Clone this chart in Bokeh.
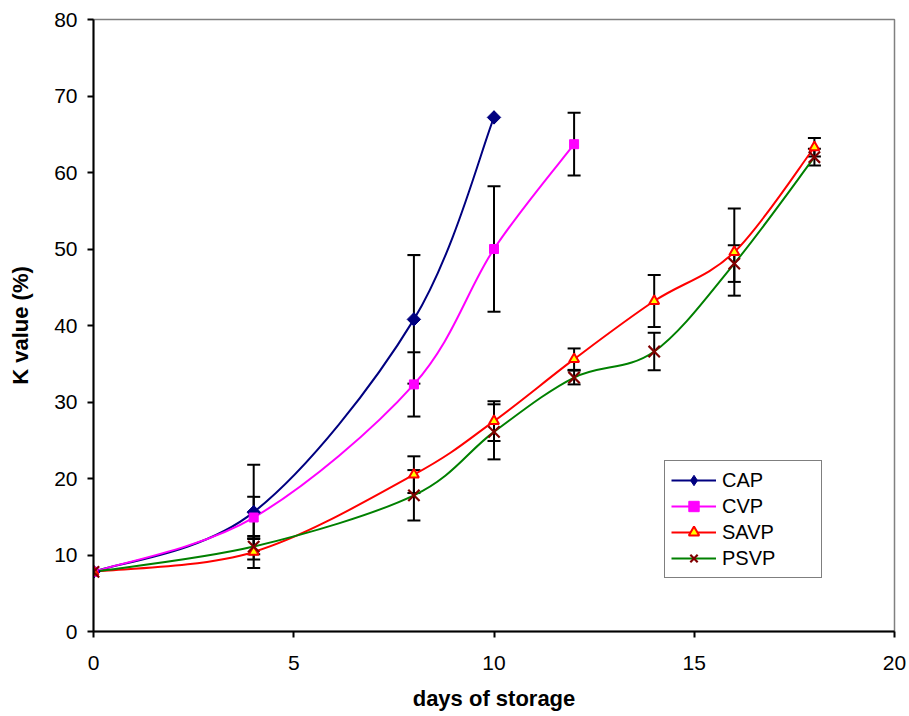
import math
from bokeh.plotting import figure
from bokeh.models import (ColumnDataSource, Whisker, TeeHead, Legend, LegendItem,
                          FixedTicker, Range1d)
from bokeh.embed import file_html
from bokeh.resources import INLINE

# ---- data ----
days_cap = [0, 4, 8, 10]
cap = [7.8, 15.6, 40.8, 67.2]
cap_err = [0, 6.2, 8.4, 0]

days_cvp = [0, 4, 8, 10, 12]
cvp = [7.8, 14.9, 32.3, 50.0, 63.7]
cvp_err = [0, 2.7, 4.2, 8.2, 4.1]

days_sv = [0, 4, 8, 10, 12, 14, 16, 18]
savp = [7.8, 10.4, 20.5, 27.5, 35.6, 43.2, 49.6, 63.3]
savp_err = [0, 2.1, 2.4, 2.6, 1.4, 3.4, 5.7, 1.2]

psvp = [7.8, 11.1, 17.8, 26.1, 33.2, 36.6, 48.1, 62.0]
psvp_err = [0, 1.0, 3.3, 3.6, 0.9, 2.45, 2.4, 1.1]

x_ticks = [0, 5, 10, 15, 20]
y_ticks = [0, 10, 20, 30, 40, 50, 60, 70, 80]

FONT = "Liberation Sans"

p = figure(width=909, height=716, output_backend="svg", toolbar_location=None,
           x_range=Range1d(0, 20), y_range=Range1d(0, 80),
           min_border_left=93, min_border_right=15, min_border_top=19, min_border_bottom=85)
p.xgrid.visible = False
p.ygrid.visible = False
p.outline_line_color = "#808080"
p.outline_line_width = 1.5
p.background_fill_color = "white"
p.border_fill_color = "white"

for ax, ticks in ((p.xaxis[0], x_ticks), (p.yaxis[0], y_ticks)):
    ax.ticker = FixedTicker(ticks=ticks)
    ax.minor_tick_line_color = None
    ax.axis_line_color = "black"
    ax.axis_line_width = 2
    ax.major_tick_line_color = "black"
    ax.major_tick_line_width = 2
    ax.major_tick_in = 0
    ax.major_tick_out = 6
    ax.major_label_text_font = FONT
    ax.major_label_text_font_size = "21px"
    ax.major_label_text_color = "black"
    ax.axis_label_text_font = FONT
    ax.axis_label_text_font_style = "bold"
    ax.axis_label_text_color = "black"
    ax.axis_label_text_font_size = "22px"

p.xaxis.axis_label = "days of storage"
p.xaxis.major_label_standoff = 18
p.xaxis.axis_label_standoff = 13
p.yaxis.axis_label = "K value (%)"
p.yaxis.major_label_standoff = 10
p.yaxis.axis_label_standoff = 18


def smooth_segments(xs, ys):
    """Catmull-Rom style Bezier segments (like a smoothed spreadsheet line)."""
    n = len(xs)
    d = dict(x0=[], y0=[], x1=[], y1=[], cx0=[], cy0=[], cx1=[], cy1=[])
    for i in range(n - 1):
        xa, ya = xs[max(i - 1, 0)], ys[max(i - 1, 0)]
        xb, yb = xs[i], ys[i]
        xc, yc = xs[i + 1], ys[i + 1]
        xd, yd = xs[min(i + 2, n - 1)], ys[min(i + 2, n - 1)]
        d["x0"].append(xb); d["y0"].append(yb)
        d["x1"].append(xc); d["y1"].append(yc)
        d["cx0"].append(xb + (xc - xa) / 6.0); d["cy0"].append(yb + (yc - ya) / 6.0)
        d["cx1"].append(xc - (xd - xb) / 6.0); d["cy1"].append(yc - (yd - yb) / 6.0)
    return ColumnDataSource(d)


series = [
    ("CAP", days_cap, cap, cap_err, "#000080"),
    ("CVP", days_cvp, cvp, cvp_err, "#FF00FF"),
    ("SAVP", days_sv, savp, savp_err, "#FF0000"),
    ("PSVP", days_sv, psvp, psvp_err, "#008000"),
]

lines = {}
for name, xs, ys, errs, col in series:
    lines[name] = p.bezier(x0="x0", y0="y0", x1="x1", y1="y1", cx0="cx0", cy0="cy0",
                           cx1="cx1", cy1="cy1", source=smooth_segments(xs, ys),
                           line_color=col, line_width=2)

for name, xs, ys, errs, col in series:
    bx = [x for x, e in zip(xs, errs) if e > 0]
    lo = [y - e for y, e in zip(ys, errs) if e > 0]
    hi = [y + e for y, e in zip(ys, errs) if e > 0]
    src = ColumnDataSource(dict(x=bx, lower=lo, upper=hi))
    w = Whisker(base="x", lower="lower", upper="upper", source=src,
                line_color="black", line_width=2,
                upper_head=TeeHead(size=13, line_color="black", line_width=2),
                lower_head=TeeHead(size=13, line_color="black", line_width=2))
    p.add_layout(w)

# diamond glyph used for the legend (hidden beneath the rotated squares below,
# because legend glyphs ignore a marker's angle)
m_cap_leg = p.scatter(days_cap, cap, marker="diamond", size=13,
                      fill_color="#000080", line_color="#000080")
m_cap = p.scatter(days_cap, cap, marker="square", size=9.5, angle=math.pi / 4,
                  fill_color="#000080", line_color="#000080")
m_cvp = p.scatter(days_cvp, cvp, marker="square", size=9, fill_color="#FF00FF",
                  line_color="#FF00FF")
m_sav = p.scatter(days_sv, savp, marker="triangle", size=10, fill_color="#FFFF00",
                  line_color="#FF0000", line_width=2)
m_psv = p.scatter(days_sv, psvp, marker="x", size=16, line_color="#800000", line_width=2.2)

legend = Legend(items=[
    LegendItem(label="CAP", renderers=[lines["CAP"], m_cap_leg]),
    LegendItem(label="CVP", renderers=[lines["CVP"], m_cvp]),
    LegendItem(label="SAVP", renderers=[lines["SAVP"], m_sav]),
    LegendItem(label="PSVP", renderers=[lines["PSVP"], m_psv]),
], location=(571, 53))
legend.border_line_color = "black"
legend.border_line_width = 1.5
legend.background_fill_color = "white"
legend.background_fill_alpha = 1
legend.padding = 6
legend.margin = 0
legend.spacing = 0
legend.glyph_width = 45
legend.glyph_height = 26
legend.label_height = 26
legend.label_width = 93
legend.label_standoff = 6
legend.label_text_font = FONT
legend.label_text_font_size = "20px"
legend.label_text_color = "black"
p.add_layout(legend, "center")

open("out.html", "w").write(file_html(p, INLINE))
